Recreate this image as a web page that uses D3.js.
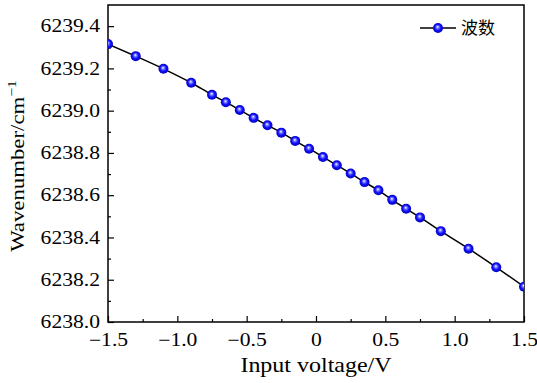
<!DOCTYPE html>
<html>
<head>
<meta charset="utf-8">
<script src="https://cdn.jsdelivr.net/npm/d3@7"></script>
<style>
	body { margin: 0; background: #fff; }
	svg { display: block; }
</style>
</head>
<body>
<div id="chart"></div>
<script>
'use strict'

// input voltage (V)
const voltage = [-1.5, -1.3, -1.1, -0.9, -0.75, -0.65, -0.55, -0.45, -0.35, -0.25, -0.15, -0.05,
	0.05, 0.15, 0.25, 0.35, 0.45, 0.55, 0.65, 0.75, 0.9, 1.1, 1.3, 1.5]
// wavenumber (cm^-1)
const wavenumber = [6239.315, 6239.258, 6239.198, 6239.132, 6239.075, 6239.040, 6239.003, 6238.966,
	6238.931, 6238.896, 6238.857, 6238.820, 6238.781, 6238.742, 6238.703, 6238.662, 6238.623,
	6238.578, 6238.536, 6238.495, 6238.430, 6238.347, 6238.259, 6238.167]
const xTicks = [-1.5, -1.0, -0.5, 0, 0.5, 1.0, 1.5]
const yTicks = [6238.0, 6238.2, 6238.4, 6238.6, 6238.8, 6239.0, 6239.2, 6239.4]
const seriesName = '波数'

const W = 537, H = 383
const m = {left: 108, right: 13, top: 5, bottom: 61}
const iw = W - m.left - m.right
const ih = H - m.top - m.bottom
const serif = "'Liberation Serif', 'DejaVu Serif', serif"
const sx = 1.2 // computer-modern is wider than Times

const svg = d3.select('#chart').append('svg')
	.attr('width', W)
	.attr('height', H)

const defs = svg.append('defs')
const grad = defs.append('radialGradient')
	.attr('id', 'ball')
	.attr('cx', '50%').attr('cy', '50%').attr('r', '55%')
	.attr('fx', '45%').attr('fy', '38%')
grad.append('stop').attr('offset', '0%').attr('stop-color', '#ffffff')
grad.append('stop').attr('offset', '25%').attr('stop-color', '#7a7aff')
grad.append('stop').attr('offset', '55%').attr('stop-color', '#1010ff')
grad.append('stop').attr('offset', '100%').attr('stop-color', '#0000b0')

defs.append('clipPath').attr('id', 'clip')
	.append('rect').attr('width', iw).attr('height', ih)

const x = d3.scaleLinear().domain([-1.5, 1.5]).range([0, iw])
const y = d3.scaleLinear().domain([6238.0, 6239.5]).range([ih, 0])

const g = svg.append('g').attr('transform', `translate(${m.left},${m.top})`)

const fmtX = (d) => d === 0 ? '0' : d3.format('.1f')(d).replace('-', '\u2212')

// minor ticks
g.append('g')
	.attr('transform', `translate(0,${ih})`)
	.call(d3.axisBottom(x).tickValues(d3.range(-1.25, 1.5, 0.5)).tickSize(-3).tickFormat(''))
g.append('g')
	.call(d3.axisLeft(y).tickValues(d3.range(6238.1, 6239.5, 0.2)).tickSize(-3).tickFormat(''))

// major ticks
const xAxis = g.append('g')
	.attr('transform', `translate(0,${ih})`)
	.call(d3.axisBottom(x).tickValues(xTicks).tickSize(-6).tickPadding(11).tickFormat(fmtX))
const yAxis = g.append('g')
	.call(d3.axisLeft(y).tickValues(yTicks).tickSize(-6).tickFormat(d3.format('.1f')))

g.selectAll('.domain').remove()
g.selectAll('.tick line').attr('stroke', '#000').attr('stroke-width', 1.2)
xAxis.selectAll('text')
	.attr('font-family', serif)
	.attr('font-size', 18)
	.attr('fill', '#000')
	.attr('dy', '0.71em')
	.attr('transform', `scale(${sx},1)`)
yAxis.selectAll('text')
	.attr('font-family', serif)
	.attr('font-size', 18)
	.attr('fill', '#000')
	.attr('x', -8 / sx)
	.attr('transform', `scale(${sx},1)`)

// frame
g.append('rect')
	.attr('width', iw)
	.attr('height', ih)
	.attr('fill', 'none')
	.attr('stroke', '#000')
	.attr('stroke-width', 1.5)

const pts = voltage.map((v, i) => [v, wavenumber[i]])

const plot = g.append('g').attr('clip-path', 'url(#clip)')
plot.append('path')
	.datum(pts)
	.attr('fill', 'none')
	.attr('stroke', '#000')
	.attr('stroke-width', 1.5)
	.attr('d', d3.line().x((d) => x(d[0])).y((d) => y(d[1])).curve(d3.curveMonotoneX))

plot.selectAll('.pt')
	.data(pts)
	.enter()
	.append('circle')
	.attr('class', 'pt')
	.attr('cx', (d) => x(d[0]))
	.attr('cy', (d) => y(d[1]))
	.attr('r', 5)
	.attr('fill', 'url(#ball)')

// legend
const leg = g.append('g').attr('transform', `translate(${iw - 104},23)`)
leg.append('line')
	.attr('x1', 0).attr('x2', 36)
	.attr('stroke', '#000').attr('stroke-width', 1.5)
leg.append('circle')
	.attr('cx', 18).attr('r', 5)
	.attr('fill', 'url(#ball)')
leg.append('text')
	.attr('x', 41)
	.attr('dy', '0.35em')
	.attr('font-family', "'Noto Sans CJK SC', sans-serif")
	.attr('font-size', 17)
	.text(seriesName)

// axis titles
svg.append('text')
	.attr('transform', `translate(${m.left + iw / 2},372) scale(${sx},1)`)
	.attr('text-anchor', 'middle')
	.attr('font-family', serif)
	.attr('font-size', 20)
	.text('Input voltage/V')

const yl = svg.append('text')
	.attr('transform', `translate(24,166) rotate(-90) scale(${sx},1)`)
	.attr('text-anchor', 'middle')
	.attr('font-family', serif)
	.attr('font-size', 19)
yl.append('tspan').text('Wavenumber/cm')
yl.append('tspan').attr('dy', -8).attr('font-size', 13).text('\u22121')
</script>
</body>
</html>
